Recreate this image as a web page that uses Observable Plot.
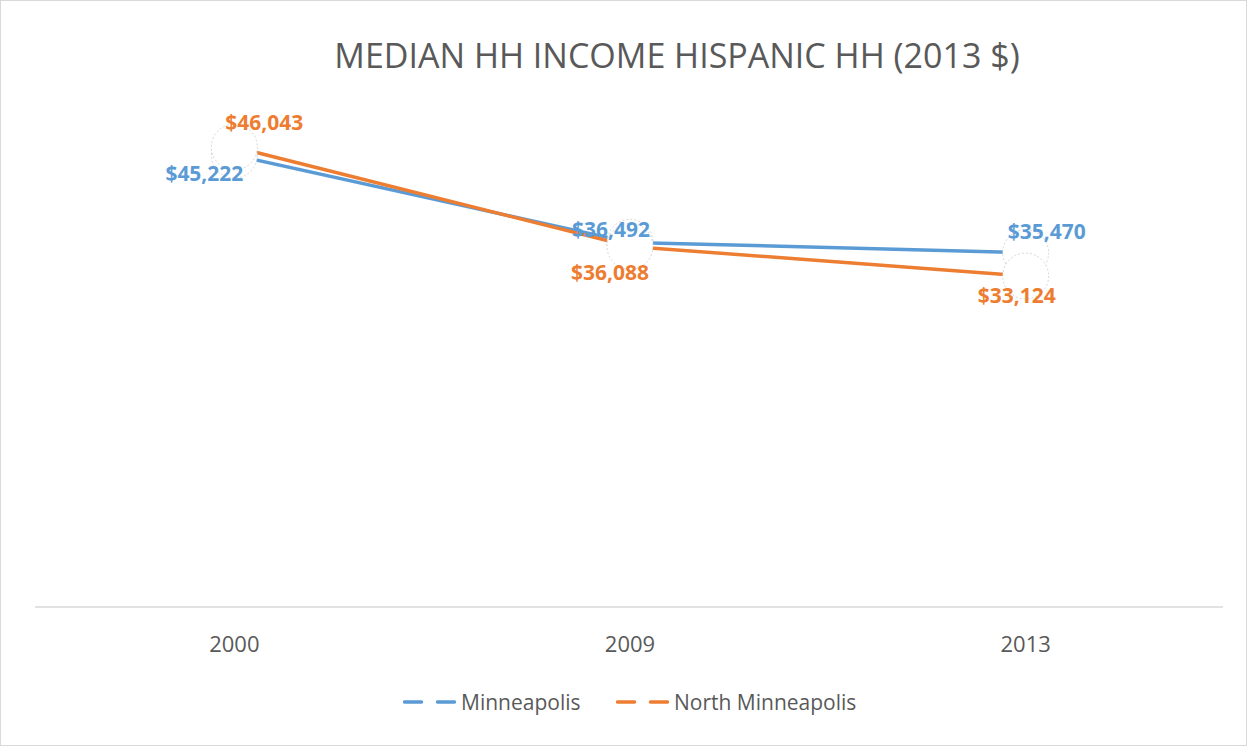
<!DOCTYPE html>
<html>
<head>
<meta charset="utf-8">
<script src="https://cdn.jsdelivr.net/npm/d3@7"></script>
<script src="https://cdn.jsdelivr.net/npm/@observablehq/plot@0.6"></script>
<style>
  body { margin: 0; background: #fff; }
  #chart { position: relative; width: 1247px; height: 746px; box-sizing: border-box; border: 1px solid #d9d9d9; font-family: "Open Sans", sans-serif; overflow: hidden; background: #fff; }
  #plot { position: absolute; left: -1px; top: -1px; }
  #title { position: absolute; left: 676px; top: 31px; transform: translateX(-50%); white-space: nowrap; font-size: 34px; color: #595959; font-weight: 400; line-height: 46px; }
  #legend { position: absolute; left: 0; top: 686px; width: 100%; height: 30px; }
  .item { position: absolute; top: 0; display: flex; align-items: center; height: 30px; font-size: 21px; color: #595959; }
  .item svg { margin-right: 2px; }
</style>
</head>
<body>
<div id="chart">
  <div id="plot"></div>
  <div id="title">MEDIAN HH INCOME HISPANIC HH (2013 $)</div>
  <div id="legend"></div>
</div>
<script>
const years = ["2000", "2009", "2013"];
const minneapolis = [45222, 36492, 35470];
const northMinneapolis = [46043, 36088, 33124];
const seriesNames = ["Minneapolis", "North Minneapolis"];
const seriesColors = ["#5B9BD5", "#ED7D31"];

const seriesValues = [minneapolis, northMinneapolis];
const rows = [];
seriesNames.forEach((name, s) => {
  years.forEach((yr, i) => rows.push({ series: name, year: yr, value: seriesValues[s][i], idx: i, s }));
});

// label offsets (style, not data): [dx, dy] per series per year
const labelOffsets = [
  [[-30, 19], [-19, -12], [21, -20]],
  [[30, -24], [-20, 27], [-9, 20]]
];

const fmt = d3.format(",");
const labelMarks = [];
seriesNames.forEach((name, s) => {
  years.forEach((yr, i) => {
    labelMarks.push(Plot.text(rows.filter(d => d.s === s && d.idx === i), {
      x: "year", y: "value",
      text: d => "$" + fmt(d.value),
      dx: labelOffsets[s][i][0], dy: labelOffsets[s][i][1],
      fill: seriesColors[s], fontSize: 21, fontWeight: 700,
      fontFamily: "Open Sans"
    }));
  });
});

const plot = Plot.plot({
  width: 1247,
  height: 746,
  marginLeft: 35,
  marginRight: 23,
  marginTop: 107,
  marginBottom: 139,
  style: { fontFamily: "Open Sans", background: "transparent", overflow: "visible" },
  x: { type: "point", domain: years, padding: 0.5, label: null },
  y: { domain: [0, 50000], axis: null },
  marks: [
    Plot.ruleY([0], { stroke: "#d9d9d9", strokeWidth: 1.5 }),
    Plot.axisX({ tickSize: 0, tickPadding: 29, fontSize: 22, color: "#595959", label: null }),
    ...seriesNames.map((name, s) => Plot.line(rows.filter(d => d.s === s), {
      x: "year", y: "value", stroke: seriesColors[s], strokeWidth: 3.5, strokeLinejoin: "round"
    })),
    Plot.dot(rows, { x: "year", y: "value", r: 23, fill: "white", stroke: "#c8c8c8", strokeWidth: 0.75, strokeDasharray: "2,2" }),
    ...labelMarks
  ]
});
document.getElementById("plot").appendChild(plot);

// legend
const legend = document.getElementById("legend");
const legendX = [402, 615];
seriesNames.forEach((name, s) => {
  const item = document.createElement("div");
  item.className = "item";
  item.style.left = legendX[s] + "px";
  item.innerHTML = `<svg width="56" height="10"><line x1="1.5" x2="54.5" y1="5" y2="5" stroke="${seriesColors[s]}" stroke-width="3.5" stroke-linecap="round" stroke-dasharray="17,16"/></svg><span>${name}</span>`;
  legend.appendChild(item);
});
</script>
</body>
</html>
